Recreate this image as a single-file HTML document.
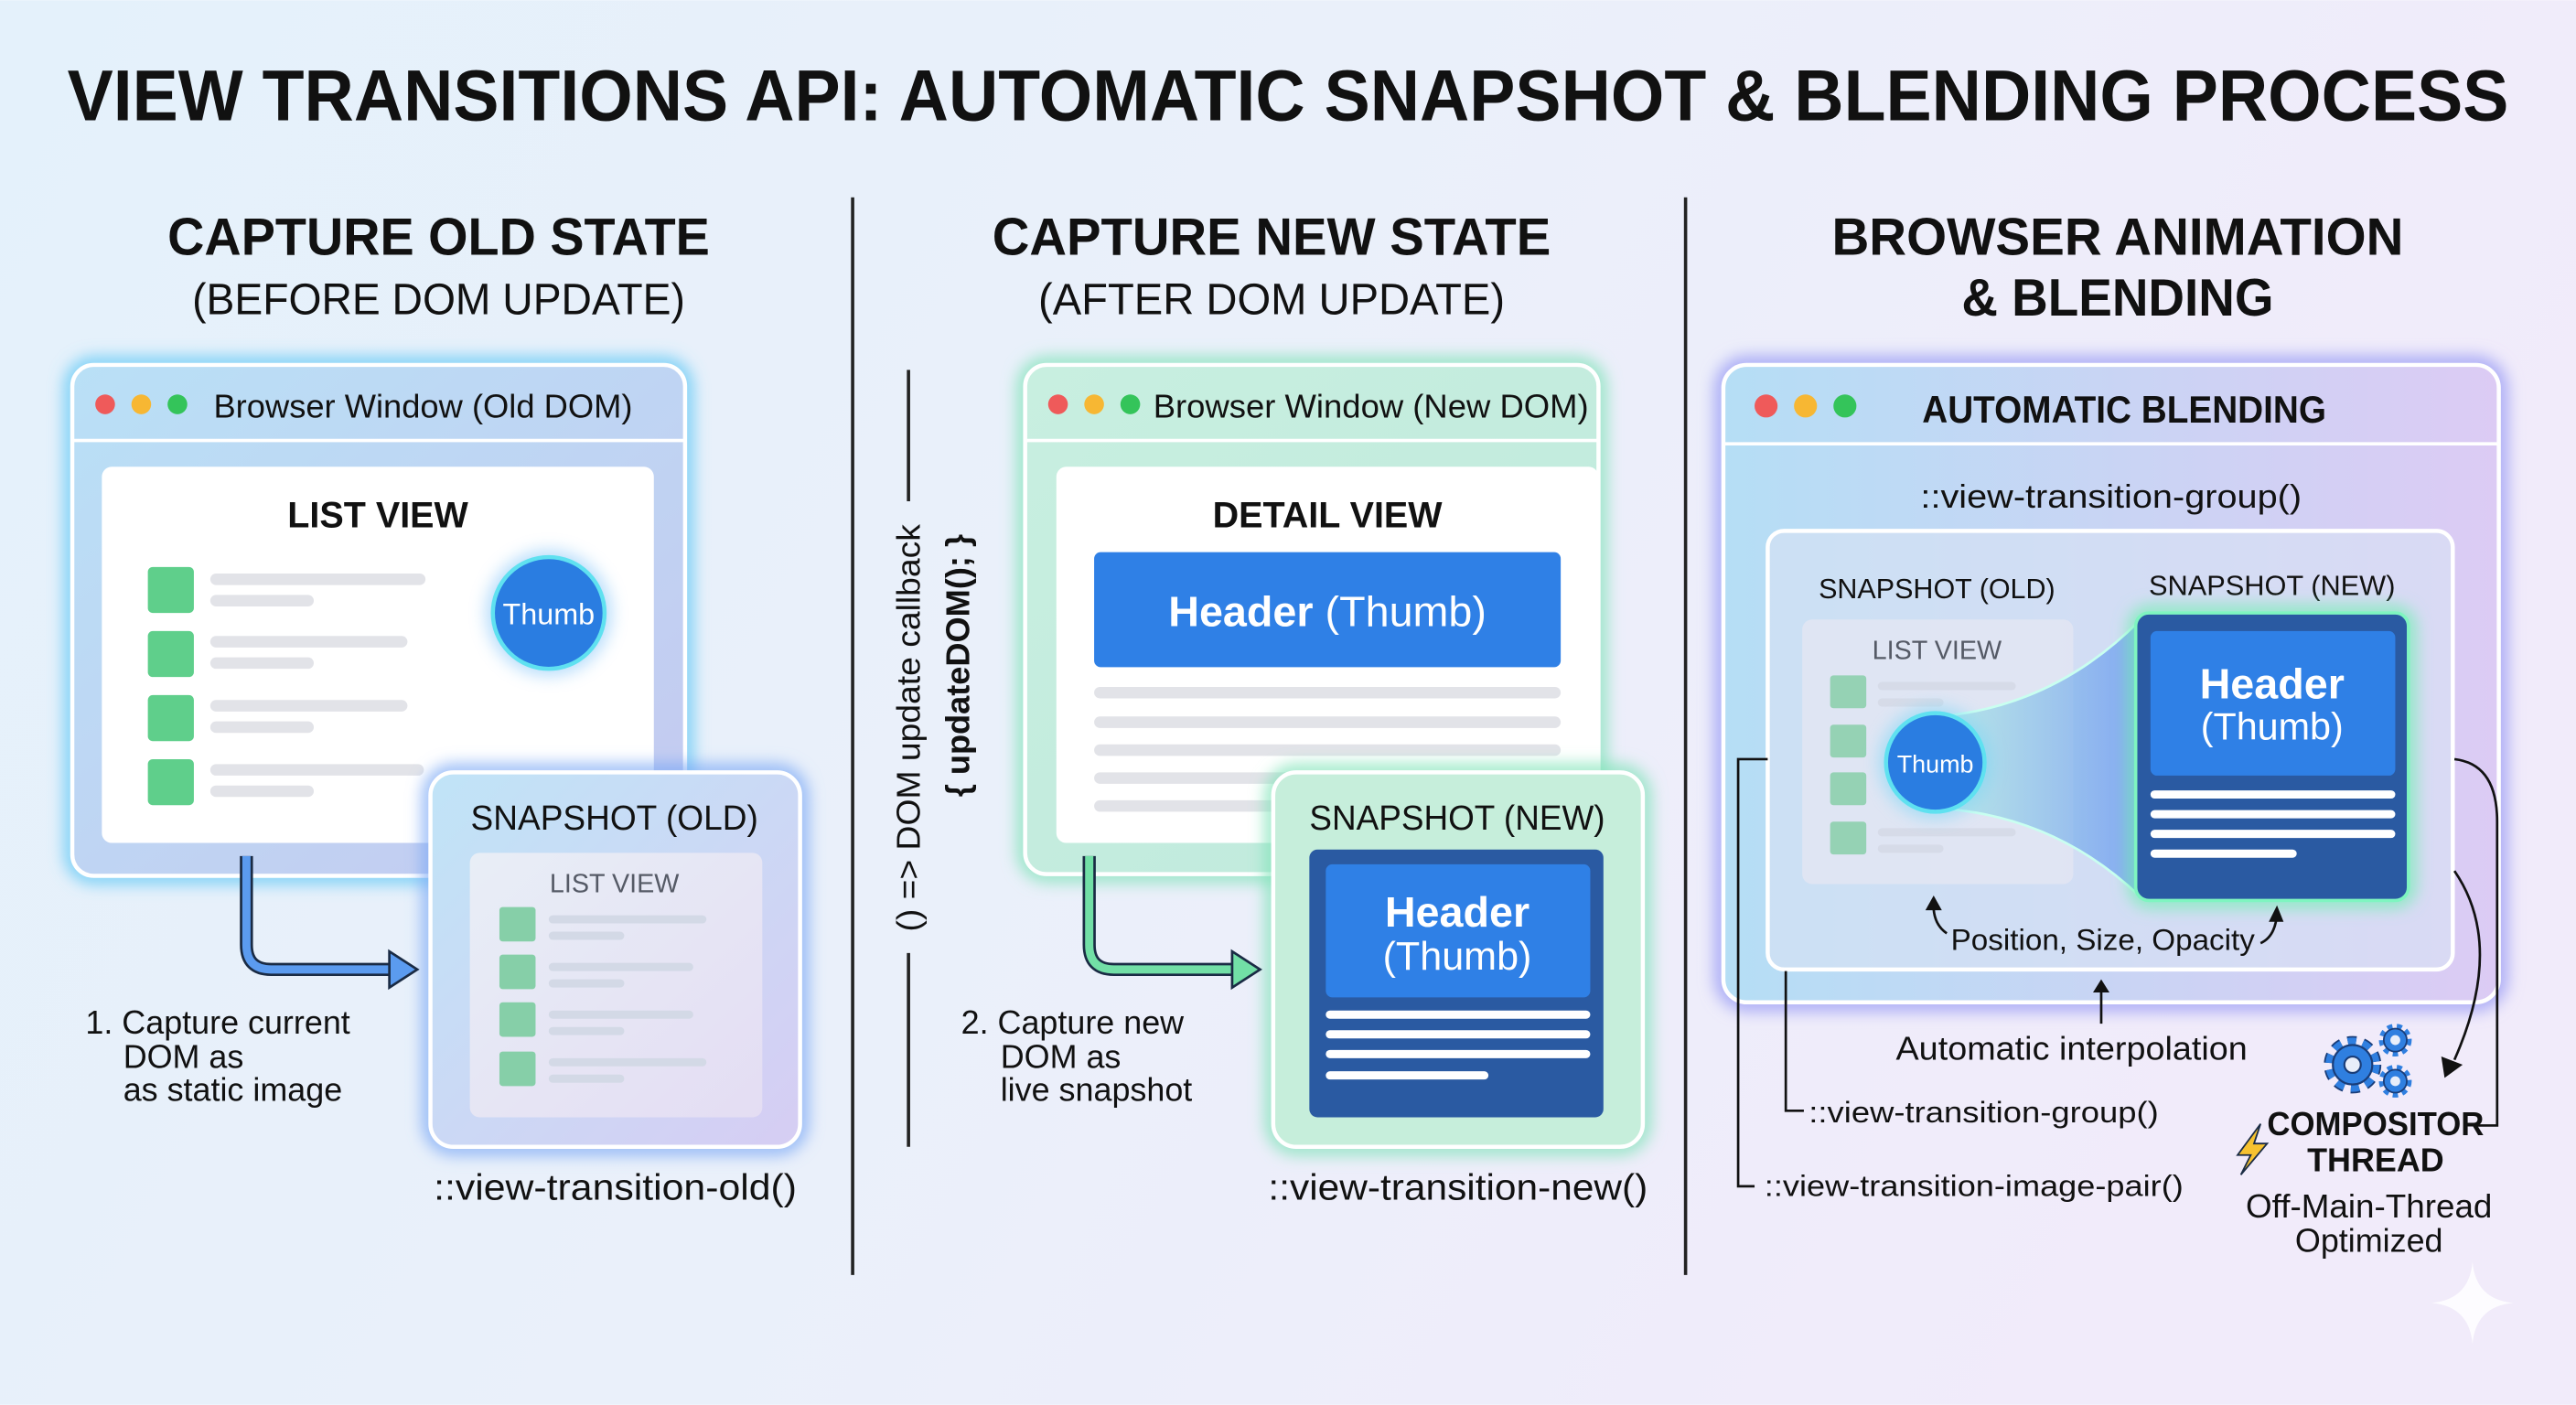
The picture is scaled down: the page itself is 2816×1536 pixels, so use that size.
<!DOCTYPE html>
<html><head><meta charset="utf-8"><style>
html,body{margin:0;padding:0;width:2816px;height:1536px;overflow:hidden}
svg{display:block}
text{font-family:"Liberation Sans",sans-serif;fill:#111}
</style></head><body>
<svg width="2816" height="1536" viewBox="0 0 1568 855" xmlns="http://www.w3.org/2000/svg">
<defs>
<linearGradient id="bg" x1="0" y1="0" x2="1" y2="0.3"><stop offset="0" stop-color="#e4f1fb"/><stop offset="0.5" stop-color="#eaf0fa"/><stop offset="1" stop-color="#f1ebfa"/></linearGradient>
<linearGradient id="win1" x1="0" y1="0" x2="1" y2="1"><stop offset="0" stop-color="#b9e0f6"/><stop offset="1" stop-color="#c5c9f0"/></linearGradient>
<linearGradient id="win2" x1="0" y1="0" x2="1" y2="1"><stop offset="0" stop-color="#c8efe0"/><stop offset="1" stop-color="#bfe9dc"/></linearGradient>
<linearGradient id="win3" x1="0" y1="0" x2="1" y2="0"><stop offset="0" stop-color="#b5def5"/><stop offset="1" stop-color="#dccbf4"/></linearGradient>
<linearGradient id="snap1" x1="0" y1="0" x2="1" y2="1"><stop offset="0" stop-color="#c0e4f7"/><stop offset="1" stop-color="#d6cdf3"/></linearGradient>
<linearGradient id="inner" x1="0" y1="0" x2="1" y2="1"><stop offset="0" stop-color="#e8eef6"/><stop offset="1" stop-color="#e4ddf3"/></linearGradient>
<linearGradient id="beam" x1="0" y1="0" x2="1" y2="0"><stop offset="0" stop-color="#9ee8e0" stop-opacity="0.8"/><stop offset="1" stop-color="#5f8ff0" stop-opacity="0.9"/></linearGradient>
<filter id="glow" x="-20%" y="-20%" width="140%" height="140%"><feGaussianBlur stdDeviation="5"/></filter>
</defs>
<rect width="1568" height="855" fill="url(#bg)"/>

<text x="784" y="73" text-anchor="middle" font-size="44" font-weight="bold" textLength="1486" lengthAdjust="spacingAndGlyphs">VIEW TRANSITIONS API: AUTOMATIC SNAPSHOT &amp; BLENDING PROCESS</text>

<text x="267" y="155" text-anchor="middle" font-size="32" font-weight="bold" textLength="330" lengthAdjust="spacingAndGlyphs">CAPTURE OLD STATE</text>
<text x="267" y="191" text-anchor="middle" font-size="27" textLength="300" lengthAdjust="spacingAndGlyphs">(BEFORE DOM UPDATE)</text>
<text x="774" y="155" text-anchor="middle" font-size="32" font-weight="bold" textLength="340" lengthAdjust="spacingAndGlyphs">CAPTURE NEW STATE</text>
<text x="774" y="191" text-anchor="middle" font-size="27" textLength="284" lengthAdjust="spacingAndGlyphs">(AFTER DOM UPDATE)</text>
<text x="1289" y="155" text-anchor="middle" font-size="32" font-weight="bold" textLength="348" lengthAdjust="spacingAndGlyphs">BROWSER ANIMATION</text>
<text x="1289" y="192" text-anchor="middle" font-size="32" font-weight="bold" textLength="190" lengthAdjust="spacingAndGlyphs">&amp; BLENDING</text>

<line x1="519" y1="120" x2="519" y2="776" stroke="#222" stroke-width="2"/>
<line x1="1026" y1="120" x2="1026" y2="776" stroke="#222" stroke-width="2"/>

<!-- Panel 1 -->
<rect x="44" y="222" width="373" height="311" rx="13" fill="none" stroke="#5ec8f5" stroke-width="8" filter="url(#glow)"/>
<rect x="44" y="222" width="373" height="311" rx="13" fill="url(#win1)" stroke="#fff" stroke-width="2.5"/>
<line x1="45" y1="268" x2="416" y2="268" stroke="#fff" stroke-width="2"/>
<circle cx="64" cy="246" r="6" fill="#ef5a5a"/><circle cx="86" cy="246" r="6" fill="#f7b733"/><circle cx="108" cy="246" r="6" fill="#34c45a"/>
<text x="130" y="254" font-size="20" textLength="255" lengthAdjust="spacingAndGlyphs">Browser Window (Old DOM)</text>
<rect x="62" y="284" width="336" height="229" rx="6" fill="#fff"/>
<text x="230" y="321" text-anchor="middle" font-size="22" font-weight="bold">LIST VIEW</text>
<g fill="#5fcf8b"><rect x="90" y="345" width="28" height="28" rx="3"/><rect x="90" y="384" width="28" height="28" rx="3"/><rect x="90" y="423" width="28" height="28" rx="3"/><rect x="90" y="462" width="28" height="28" rx="3"/></g>
<g fill="#e2e3e8"><rect x="128" y="349" width="131" height="7" rx="3.5"/><rect x="128" y="362" width="63" height="7" rx="3.5"/><rect x="128" y="387" width="120" height="7" rx="3.5"/><rect x="128" y="400" width="63" height="7" rx="3.5"/><rect x="128" y="426" width="120" height="7" rx="3.5"/><rect x="128" y="439" width="63" height="7" rx="3.5"/><rect x="128" y="465" width="130" height="7" rx="3.5"/><rect x="128" y="478" width="63" height="7" rx="3.5"/></g>
<circle cx="334" cy="373" r="38" fill="#6ab8f7" opacity="0.5" filter="url(#glow)"/>
<circle cx="334" cy="373" r="34" fill="#2a7de1" stroke="#5fe1f0" stroke-width="2.5"/>
<text x="334" y="380" text-anchor="middle" font-size="18" style="fill:#fff">Thumb</text>

<rect x="262" y="470" width="225" height="228" rx="14" fill="none" stroke="#7aa8f5" stroke-width="8" filter="url(#glow)"/>
<rect x="262" y="470" width="225" height="228" rx="14" fill="url(#snap1)" stroke="#fff" stroke-width="2.5"/>
<text x="374" y="505" text-anchor="middle" font-size="21" textLength="175" lengthAdjust="spacingAndGlyphs">SNAPSHOT (OLD)</text>
<rect x="286" y="519" width="178" height="161" rx="6" fill="url(#inner)"/>
<text x="374" y="543" text-anchor="middle" font-size="16" style="fill:#555a66">LIST VIEW</text>
<g fill="#86cfa8"><rect x="304" y="552" width="22" height="21" rx="2"/><rect x="304" y="581" width="22" height="21" rx="2"/><rect x="304" y="610" width="22" height="21" rx="2"/><rect x="304" y="640" width="22" height="21" rx="2"/></g>
<g fill="#d3d9e6"><rect x="334" y="557" width="96" height="5" rx="2.5"/><rect x="334" y="567" width="46" height="5" rx="2.5"/><rect x="334" y="586" width="88" height="5" rx="2.5"/><rect x="334" y="596" width="46" height="5" rx="2.5"/><rect x="334" y="615" width="88" height="5" rx="2.5"/><rect x="334" y="625" width="46" height="5" rx="2.5"/><rect x="334" y="644" width="96" height="5" rx="2.5"/><rect x="334" y="654" width="46" height="5" rx="2.5"/></g>
<path d="M150 521 V575 Q150 590 165 590 H242" fill="none" stroke="#1a2b44" stroke-width="8"/>
<path d="M150 521 V575 Q150 590 165 590 H242" fill="none" stroke="#5b9bef" stroke-width="5"/>
<path d="M237 579 L254 590 L237 601 Z" fill="#5b9bef" stroke="#1a2b44" stroke-width="1.5"/>
<text font-size="20"><tspan x="52" y="629">1. Capture current</tspan><tspan x="75" y="650">DOM as</tspan><tspan x="75" y="670">as static image</tspan></text>
<text x="264" y="730" font-size="22" textLength="221" lengthAdjust="spacingAndGlyphs">::view-transition-old()</text>

<!-- middle rotated -->
<line x1="553" y1="225" x2="553" y2="305" stroke="#222" stroke-width="2"/>
<line x1="553" y1="580" x2="553" y2="698" stroke="#222" stroke-width="2"/>
<text transform="translate(560,443) rotate(-90)" text-anchor="middle" font-size="20" textLength="248" lengthAdjust="spacingAndGlyphs">() =&gt; DOM update callback</text>
<text transform="translate(590,405) rotate(-90)" text-anchor="middle" font-size="20" font-weight="bold" textLength="160" lengthAdjust="spacingAndGlyphs">{ updateDOM(); }</text>

<!-- Panel 2 -->
<rect x="624" y="222" width="349" height="310" rx="13" fill="none" stroke="#7fe3b8" stroke-width="8" filter="url(#glow)"/>
<rect x="624" y="222" width="349" height="310" rx="13" fill="url(#win2)" stroke="#fff" stroke-width="2.5"/>
<line x1="625" y1="268" x2="972" y2="268" stroke="#fff" stroke-width="2"/>
<circle cx="644" cy="246" r="6" fill="#ef5a5a"/><circle cx="666" cy="246" r="6" fill="#f7b733"/><circle cx="688" cy="246" r="6" fill="#34c45a"/>
<text x="702" y="254" font-size="20" textLength="265" lengthAdjust="spacingAndGlyphs">Browser Window (New DOM)</text>
<rect x="643" y="284" width="330" height="229" rx="6" fill="#fff"/>
<text x="808" y="321" text-anchor="middle" font-size="22" font-weight="bold">DETAIL VIEW</text>
<rect x="666" y="336" width="284" height="70" rx="4" fill="#2f80e6"/>
<text x="808" y="381" text-anchor="middle" font-size="26" style="fill:#fff"><tspan font-weight="bold" style="fill:#fff">Header</tspan> (Thumb)</text>
<g fill="#e2e3e8"><rect x="666" y="418" width="284" height="7" rx="3.5"/><rect x="666" y="436" width="284" height="7" rx="3.5"/><rect x="666" y="453" width="284" height="7" rx="3.5"/><rect x="666" y="470" width="284" height="7" rx="3.5"/><rect x="666" y="487" width="284" height="7" rx="3.5"/></g>

<rect x="775" y="470" width="225" height="228" rx="14" fill="none" stroke="#7fe3b8" stroke-width="8" filter="url(#glow)"/>
<rect x="775" y="470" width="225" height="228" rx="14" fill="#c6eedb" stroke="#fff" stroke-width="2.5"/>
<text x="887" y="505" text-anchor="middle" font-size="21" textLength="180" lengthAdjust="spacingAndGlyphs">SNAPSHOT (NEW)</text>
<rect x="797" y="517" width="179" height="163" rx="5" fill="#2a5aa2"/>
<rect x="807" y="526" width="161" height="81" rx="4" fill="#2f80e6"/>
<text x="887" y="564" text-anchor="middle" font-size="26" font-weight="bold" style="fill:#fff">Header</text>
<text x="887" y="590" text-anchor="middle" font-size="24" style="fill:#fff">(Thumb)</text>
<g fill="#fff"><rect x="807" y="615" width="161" height="5" rx="2.5"/><rect x="807" y="627" width="161" height="5" rx="2.5"/><rect x="807" y="639" width="161" height="5" rx="2.5"/><rect x="807" y="652" width="99" height="5" rx="2.5"/></g>
<path d="M663 521 V575 Q663 590 678 590 H755" fill="none" stroke="#1a2b44" stroke-width="8"/>
<path d="M663 521 V575 Q663 590 678 590 H755" fill="none" stroke="#72dfa6" stroke-width="5"/>
<path d="M750 579 L767 590 L750 601 Z" fill="#72dfa6" stroke="#1a2b44" stroke-width="1.5"/>
<text font-size="20"><tspan x="585" y="629">2. Capture new</tspan><tspan x="609" y="650">DOM as</tspan><tspan x="609" y="670">live snapshot</tspan></text>
<text x="772" y="730" font-size="22" textLength="231" lengthAdjust="spacingAndGlyphs">::view-transition-new()</text>

<!-- Panel 3 -->
<rect x="1049" y="222" width="472" height="388" rx="14" fill="none" stroke="#9a9cf5" stroke-width="9" filter="url(#glow)"/>
<rect x="1049" y="222" width="472" height="388" rx="14" fill="url(#win3)" stroke="#fff" stroke-width="2.5"/>
<line x1="1050" y1="270" x2="1520" y2="270" stroke="#fff" stroke-width="2"/>
<circle cx="1075" cy="247" r="7" fill="#ef5a5a"/><circle cx="1099" cy="247" r="7" fill="#f7b733"/><circle cx="1123" cy="247" r="7" fill="#34c45a"/>
<text x="1293" y="257" text-anchor="middle" font-size="23" font-weight="bold" textLength="246" lengthAdjust="spacingAndGlyphs">AUTOMATIC BLENDING</text>
<text x="1285" y="309" text-anchor="middle" font-size="20" textLength="232" lengthAdjust="spacingAndGlyphs">::view-transition-group()</text>
<rect x="1076" y="323" width="417" height="267" rx="10" fill="#d9e3f4" fill-opacity="0.6" stroke="#fff" stroke-width="2.5"/>
<text x="1179" y="364" text-anchor="middle" font-size="17" textLength="144" lengthAdjust="spacingAndGlyphs">SNAPSHOT (OLD)</text>
<text x="1383" y="362" text-anchor="middle" font-size="17" textLength="150" lengthAdjust="spacingAndGlyphs">SNAPSHOT (NEW)</text>
<rect x="1097" y="377" width="165" height="161" rx="6" fill="#e4e6f2" fill-opacity="0.8"/>
<text x="1179" y="401" text-anchor="middle" font-size="16" style="fill:#555a66">LIST VIEW</text>
<g fill="#95d2b4"><rect x="1114" y="411" width="22" height="20" rx="2"/><rect x="1114" y="441" width="22" height="20" rx="2"/><rect x="1114" y="470" width="22" height="20" rx="2"/><rect x="1114" y="500" width="22" height="20" rx="2"/></g>
<g fill="#d6dbe8"><rect x="1143" y="415" width="84" height="5" rx="2.5"/><rect x="1143" y="425" width="40" height="5" rx="2.5"/><rect x="1143" y="504" width="84" height="5" rx="2.5"/><rect x="1143" y="514" width="40" height="5" rx="2.5"/></g>
<path d="M1180 436 Q1250 430 1302 378 L1302 545 Q1250 496 1180 492 Z" fill="url(#beam)" opacity="0.75"/>
<path d="M1180 436 Q1250 430 1302 378 M1180 492 Q1250 496 1302 545" fill="none" stroke="#c9fff0" stroke-width="1.5"/>
<circle cx="1178" cy="464" r="34" fill="#7ad7f7" opacity="0.6" filter="url(#glow)"/>
<circle cx="1178" cy="464" r="30" fill="#2a7de1" stroke="#5fe1f0" stroke-width="2.5"/>
<text x="1178" y="470" text-anchor="middle" font-size="15" style="fill:#fff">Thumb</text>
<rect x="1300" y="373" width="166" height="175" rx="8" fill="none" stroke="#6ff0b0" stroke-width="7" filter="url(#glow)"/>
<rect x="1300" y="373" width="166" height="175" rx="8" fill="#2a5aa2" stroke="#7ff5c0" stroke-width="2"/>
<rect x="1309" y="384" width="149" height="88" rx="4" fill="#2f80e6"/>
<text x="1383" y="425" text-anchor="middle" font-size="26" font-weight="bold" style="fill:#fff">Header</text>
<text x="1383" y="450" text-anchor="middle" font-size="23" style="fill:#fff">(Thumb)</text>
<g fill="#fff"><rect x="1309" y="481" width="149" height="5" rx="2.5"/><rect x="1309" y="493" width="149" height="5" rx="2.5"/><rect x="1309" y="505" width="149" height="5" rx="2.5"/><rect x="1309" y="517" width="89" height="5" rx="2.5"/></g>
<text x="1280" y="578" text-anchor="middle" font-size="18" textLength="185" lengthAdjust="spacingAndGlyphs">Position, Size, Opacity</text>
<path d="M1185 568 Q1176 562 1177 548" fill="none" stroke="#111" stroke-width="1.5"/><path d="M1172 554 L1177 545 L1182 554 Z" fill="#111"/>
<path d="M1376 574 Q1385 570 1386 556" fill="none" stroke="#111" stroke-width="1.5"/><path d="M1381 561 L1386 551 L1390 561 Z" fill="#111"/>
<line x1="1279" y1="623" x2="1279" y2="602" stroke="#111" stroke-width="1.5"/><path d="M1274 604 L1279 596 L1284 604 Z" fill="#111"/>
<text x="1261" y="645" text-anchor="middle" font-size="20" textLength="214" lengthAdjust="spacingAndGlyphs">Automatic interpolation</text>
<path d="M1076 462 H1058 V722 H1068" fill="none" stroke="#111" stroke-width="1.5"/>
<text x="1074" y="728" font-size="18" textLength="255" lengthAdjust="spacingAndGlyphs">::view-transition-image-pair()</text>
<path d="M1087 591 V676 H1098" fill="none" stroke="#111" stroke-width="1.5"/>
<text x="1101" y="683" font-size="18" textLength="213" lengthAdjust="spacingAndGlyphs">::view-transition-group()</text>
<path d="M1494 462 Q1520 465 1520 500 V685 H1506" fill="none" stroke="#111" stroke-width="1.5"/>
<path d="M1494 530 Q1525 575 1494 645" fill="none" stroke="#111" stroke-width="1.5"/>
<path d="M1486 643 L1488 656 L1499 648 Z" fill="#111"/>
<!-- gears -->
<circle cx="1432" cy="648" r="14" fill="none" stroke="#1a3d78" stroke-width="7" stroke-dasharray="5 4"/>
<circle cx="1432" cy="648" r="14" fill="none" stroke="#2f7fe0" stroke-width="5" stroke-dasharray="5 4"/>
<circle cx="1432" cy="648" r="12" fill="#2f7fe0" stroke="#1a3d78" stroke-width="1.2"/>
<circle cx="1432" cy="648" r="5" fill="#e8eefa" stroke="#1a3d78" stroke-width="1.2"/>
<g>
<circle cx="1458" cy="633" r="8" fill="none" stroke="#2f7fe0" stroke-width="4" stroke-dasharray="3 2.5"/>
<circle cx="1458" cy="633" r="7" fill="#2f7fe0" stroke="#1a3d78" stroke-width="1"/>
<circle cx="1458" cy="633" r="3" fill="#e8eefa"/>
<circle cx="1458" cy="658" r="8" fill="none" stroke="#2f7fe0" stroke-width="4" stroke-dasharray="3 2.5"/>
<circle cx="1458" cy="658" r="7" fill="#2f7fe0" stroke="#1a3d78" stroke-width="1"/>
<circle cx="1458" cy="658" r="3" fill="#e8eefa"/>
</g>
<path d="M1376 684 L1362 703 L1370 703 L1364 715 L1380 696 L1372 696 Z" fill="#f7c22f" stroke="#1a2b44" stroke-width="1"/>
<text x="1446" y="691" text-anchor="middle" font-size="20" font-weight="bold" textLength="132" lengthAdjust="spacingAndGlyphs">COMPOSITOR</text>
<text x="1446" y="713" text-anchor="middle" font-size="20" font-weight="bold">THREAD</text>
<text x="1442" y="741" text-anchor="middle" font-size="20" textLength="150" lengthAdjust="spacingAndGlyphs">Off-Main-Thread</text>
<text x="1442" y="762" text-anchor="middle" font-size="20">Optimized</text>
<path d="M1505 768 Q1507 791 1530 793 Q1507 795 1505 818 Q1503 795 1480 793 Q1503 791 1505 768 Z" fill="#fff" opacity="0.85"/>
</svg>
</body></html>
